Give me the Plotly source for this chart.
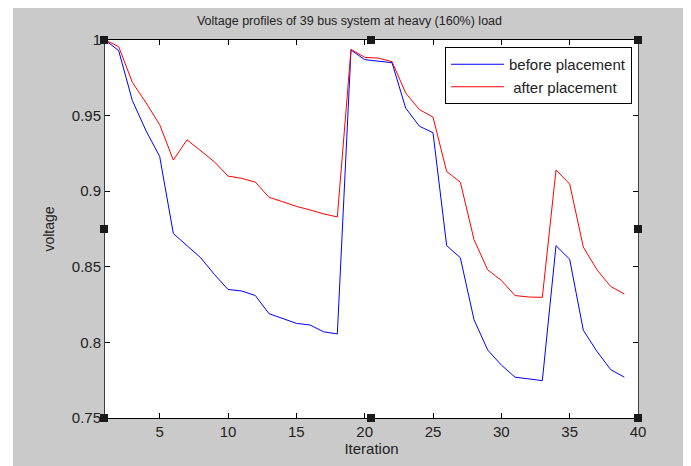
import plotly.graph_objects as go

iterations = list(range(1, 40))
before_placement = [1.000, 0.993, 0.960, 0.940, 0.923, 0.872, 0.864, 0.856, 0.845, 0.835,
                    0.834, 0.831, 0.819, 0.816, 0.8126, 0.8115, 0.807, 0.8056, 0.9934, 0.987,
                    0.986, 0.985, 0.955, 0.943, 0.9387, 0.864, 0.856, 0.815, 0.795, 0.785,
                    0.777, 0.7756, 0.7747, 0.864, 0.855, 0.808, 0.794, 0.782, 0.777]
after_placement = [1.000, 0.9956, 0.972, 0.9585, 0.944, 0.9206, 0.934, 0.927, 0.9195, 0.910,
                   0.9085, 0.906, 0.896, 0.893, 0.890, 0.8876, 0.885, 0.883, 0.9938, 0.9885,
                   0.988, 0.9857, 0.965, 0.954, 0.949, 0.913, 0.906, 0.868, 0.848, 0.841,
                   0.831, 0.830, 0.8298, 0.914, 0.9048, 0.863, 0.848, 0.837, 0.832]
x_ticks = [5, 10, 15, 20, 25, 30, 35, 40]
y_ticks = [0.75, 0.8, 0.85, 0.9, 0.95, 1.0]
y_tick_labels = ["0.75", "0.8", "0.85", "0.9", "0.95", "1"]

# page body has an 8px margin, so the figure starts at image pixel (8, 8)
OFF = 8
IMG_W, IMG_H = 691, 466
W, H = IMG_W - OFF, IMG_H - OFF
PL, PR, PT, PB = 105, 638, 40, 418          # plot box in image pixels
ML, MR, MT, MB = PL - OFF, IMG_W - PR, PT - OFF, IMG_H - PB
PW, PH = PR - PL, PB - PT

def px(x_img):
    return (x_img - PL) / PW

def py(y_img):
    return (PB - y_img) / PH

FONT = "Liberation Sans, Arial, sans-serif"
GREY = "#cacaca"
TXT = "#222222"

fig = go.Figure()
fig.add_trace(go.Scatter(x=iterations, y=before_placement, mode="lines",
                         line=dict(color="#0000ff", width=1), name="before placement"))
fig.add_trace(go.Scatter(x=iterations, y=after_placement, mode="lines",
                         line=dict(color="#ff0000", width=1), name=" after placement"))

shapes = [
    # white strip at the left edge of the image (8..13 px)
    dict(type="rect", xref="paper", yref="paper", x0=px(6), x1=px(13), y0=py(IMG_H + 2), y1=py(0),
         fillcolor="white", line=dict(width=0), layer="below"),
]
# selection handles
for hx, hy in [(104, 40), (371, 40), (638, 40), (104, 229), (638, 229), (104, 418), (371, 418), (638, 418)]:
    shapes.append(dict(type="rect", xref="paper", yref="paper",
                       xsizemode="pixel", ysizemode="pixel",
                       xanchor=px(hx), yanchor=py(hy), x0=-4, x1=4, y0=-4, y1=4,
                       fillcolor="#1a1a1a", line=dict(width=0), layer="above"))

fig.update_layout(
    width=W, height=H,
    margin=dict(l=ML, r=MR, t=MT, b=MB),
    paper_bgcolor=GREY,
    plot_bgcolor="white",
    font=dict(family=FONT, size=15, color=TXT),
    title=dict(text="Voltage profiles of 39 bus system at heavy (160%) load",
               x=px(371.5), xanchor="center", y=1 - (21 - OFF) / H, yanchor="middle",
               font=dict(family=FONT, size=12.5, color=TXT)),
    xaxis=dict(range=[1, 40], tickvals=x_ticks, ticks="inside", ticklen=5, tickcolor="black",
               showline=True, linecolor="black", linewidth=1, mirror="ticks",
               showgrid=False, zeroline=False, tickfont=dict(size=15),
               title=dict(text="Iteration", standoff=2, font=dict(family=FONT, size=15))),
    yaxis=dict(range=[0.75, 1.0], tickvals=y_ticks, ticktext=y_tick_labels, ticks="inside",
               ticklen=5, tickcolor="black",
               showline=True, linecolor="#404040", linewidth=1, mirror="ticks",
               showgrid=False, zeroline=False, tickfont=dict(size=15),
               title=dict(text="voltage", standoff=13, font=dict(family=FONT, size=14))),
    legend=dict(x=px(632), xanchor="right", y=py(47), yanchor="top",
                bgcolor="white", bordercolor="black", borderwidth=1,
                font=dict(family=FONT, size=15, color=TXT),
                tracegroupgap=0, itemwidth=53),
    shapes=shapes,
    showlegend=True,
)

fig.write_html("out.html")
